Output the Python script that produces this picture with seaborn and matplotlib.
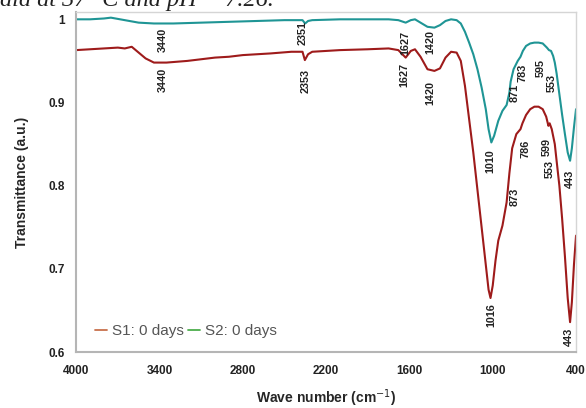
import numpy as np
import pandas as pd
import seaborn as sns
import matplotlib.pyplot as plt
from matplotlib.lines import Line2D

# %% spectra

# S2: 0 days (upper, teal trace)
wave_s2 = [4000, 3900, 3800, 3750, 3650, 3550, 3440, 3300, 3100, 2900, 2700,
           2500, 2400, 2370, 2351, 2330, 2300, 2100, 1900, 1750, 1680, 1627,
           1590, 1560, 1520, 1470, 1420, 1380, 1340, 1300, 1260, 1230, 1200,
           1170, 1140, 1110, 1080, 1050, 1030, 1010, 990, 960, 930, 900, 880,
           871, 850, 820, 800, 783, 760, 730, 700, 670, 640, 610, 595, 580,
           565, 553, 540, 520, 500, 480, 460, 443, 430, 415, 400]
trans_s2 = [1.000, 1.000, 1.001, 1.002, 0.999, 0.996, 0.995, 0.995, 0.996,
            0.997, 0.998, 0.999, 0.999, 0.999, 0.995, 0.998, 0.999, 1.000,
            1.000, 1.000, 0.999, 0.996, 0.999, 1.000, 0.996, 0.991, 0.990,
            0.993, 0.998, 1.000, 0.999, 0.995, 0.985, 0.972, 0.958, 0.940,
            0.918, 0.892, 0.868, 0.852, 0.860, 0.878, 0.890, 0.897, 0.912,
            0.925, 0.940, 0.950, 0.955, 0.962, 0.968, 0.971, 0.972, 0.972,
            0.971, 0.966, 0.963, 0.962, 0.956, 0.948, 0.935, 0.910, 0.885,
            0.862, 0.840, 0.830, 0.845, 0.870, 0.892]

# S1: 0 days (lower, dark red trace)
wave_s1 = [4000, 3900, 3800, 3700, 3650, 3600, 3550, 3500, 3440, 3350, 3200,
           3000, 2900, 2800, 2600, 2450, 2370, 2353, 2330, 2300, 2100, 1900,
           1750, 1680, 1627, 1590, 1560, 1520, 1470, 1420, 1380, 1340, 1300,
           1260, 1230, 1200, 1170, 1140, 1110, 1080, 1050, 1030, 1016, 1000,
           980, 960, 930, 900, 880, 860, 830, 800, 786, 760, 730, 700, 670,
           640, 615, 599, 590, 575, 553, 540, 520, 500, 480, 460, 443, 430,
           415, 400]
trans_s1 = [0.963, 0.964, 0.965, 0.966, 0.965, 0.967, 0.960, 0.953, 0.948,
            0.948, 0.950, 0.954, 0.955, 0.957, 0.959, 0.961, 0.961, 0.951,
            0.958, 0.961, 0.963, 0.964, 0.965, 0.963, 0.954, 0.962, 0.964,
            0.955, 0.940, 0.938, 0.941, 0.954, 0.961, 0.960, 0.950, 0.920,
            0.880, 0.840, 0.795, 0.750, 0.705, 0.675, 0.665, 0.680, 0.710,
            0.734, 0.752, 0.780, 0.815, 0.845, 0.862, 0.868, 0.875, 0.885,
            0.892, 0.895, 0.895, 0.892, 0.883, 0.872, 0.875, 0.868, 0.850,
            0.830, 0.800, 0.760, 0.715, 0.665, 0.636, 0.660, 0.705, 0.740]

# peak labels: (text, wave number, transmittance)
peaks_s2 = [("3440", 3374, 0.975), ("2351", 2366, 0.983), ("1627", 1631, 0.972),
            ("1420", 1451, 0.973), ("871", 839, 0.911), ("783", 782, 0.936),
            ("595", 652, 0.942), ("553", 573, 0.924), ("1010", 1019, 0.830),
            ("443", 443, 0.808)]
peaks_s1 = [("3440", 3374, 0.927), ("2353", 2351, 0.926), ("1627", 1638, 0.933),
            ("1420", 1451, 0.912), ("786", 767, 0.844), ("599", 609, 0.846),
            ("553", 587, 0.820), ("873", 839, 0.786), ("1016", 1012, 0.645),
            ("443", 450, 0.618)]

x_ticks = [4000, 3400, 2800, 2200, 1600, 1000, 400]
y_ticks = [0.6, 0.7, 0.8, 0.9, 1.0]
y_tick_labels = ["0.6", "0.7", "0.8", "0.9", "1"]

# long table for seaborn
spectra = pd.concat([
    pd.DataFrame({"wave": wave_s1, "T": trans_s1, "sample": "S1: 0 days"}),
    pd.DataFrame({"wave": wave_s2, "T": trans_s2, "sample": "S2: 0 days"}),
])

# %% plot

sns.set_style("white")
plt.rcParams["font.family"] = ["Liberation Sans", "DejaVu Sans"]

fig = plt.figure(figsize=(5.86, 4.08), dpi=100)
ax = fig.add_axes([0.130, 0.137, 0.853, 0.834])

sns.lineplot(
    data=spectra, x="wave", y="T", hue="sample",
    palette={"S1: 0 days": "#9e1b1b", "S2: 0 days": "#1f9595"},
    sort=False, estimator=None, linewidth=1.5, legend=False, ax=ax,
)

for _txt, _w, _t in peaks_s2 + peaks_s1:
    ax.text(_w, _t, _txt, rotation=90, ha="center", va="center",
            fontsize=7.8, fontweight="bold", color="#222222")

ax.set_xlim(4000, 400)
ax.set_ylim(0.6, 1.009)
ax.set_xticks(x_ticks)
ax.set_yticks(y_ticks)
ax.set_yticklabels(y_tick_labels)
ax.tick_params(axis="both", labelsize=8.5, colors="#222222", pad=6,
               direction="out", length=3, width=1, color="#a8a8a8")
ax.tick_params(axis="y", length=2)
for _lab in ax.get_xticklabels() + ax.get_yticklabels():
    _lab.set_fontweight("bold")

for _s in ["left", "bottom"]:
    ax.spines[_s].set_color("#b5b5b5")
    ax.spines[_s].set_linewidth(1.5)
for _s in ["top", "right"]:
    ax.spines[_s].set_color("#d5d5d5")
    ax.spines[_s].set_linewidth(1.0)

ax.set_xlabel("Wave number (cm$^{-1}$)", fontsize=10, fontweight="bold",
              labelpad=8)
ax.set_ylabel("Transmittance (a.u.)", fontsize=10, fontweight="bold",
              labelpad=14)

# legend uses its own (lighter) colours, as in the original
handles = [Line2D([], [], color="#c8714c", lw=1.3),
           Line2D([], [], color="#4cae4c", lw=1.3)]
ax.legend(handles, ["S1: 0 days", "S2: 0 days"], ncol=2, frameon=False,
          loc="lower left", bbox_to_anchor=(0.01, 0.0), fontsize=11,
          handlelength=0.8, handletextpad=0.3, columnspacing=0.3,
          labelcolor="#555555")

# caption of the source page, clipped at the top edge
fig.text(0.0, 1 - 6 / 408, "ala at 37 °C and pH = 7.26.", ha="left",
         va="baseline", fontsize=17.5, family="Liberation Serif",
         style="italic", color="#222222")

fig.savefig("out.png", dpi=100)
